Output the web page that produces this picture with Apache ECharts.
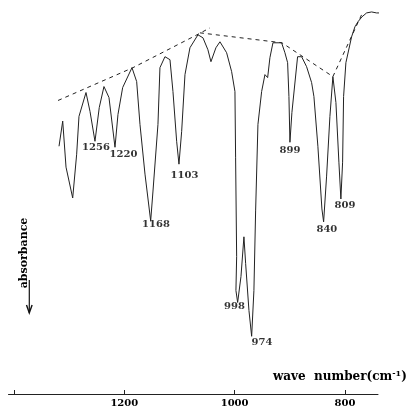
<!DOCTYPE html>
<html>
<head>
<meta charset="utf-8">
<script src="https://cdn.jsdelivr.net/npm/echarts@6/dist/echarts.min.js"></script>
<style>
html,body{margin:0;padding:0;background:#fff;}
#chart{width:411px;height:408px;}
</style>
</head>
<body>
<div id="chart"></div>
<script>
// Wavenumbers (cm-1) of the traced spectrum
var wavenumbers = [1318.4,1311.7,1305.7,1293.6,1286.4,1282.2,1269.5,1262.2,1253.2,1245.4,1236.9,1227.8,1216.9,1211.5,1203.0,1186.1,1177.6,1171.6,1162.5,1152.2,1148.0,1139.0,1135.4,1126.3,1117.2,1111.8,1105.1,1100.9,1096.0,1090.0,1081.0,1066.5,1057.4,1048.4,1042.9,1033.9,1026.6,1014.5,1005.4,999.4,998.2,996.3,997.6,994.5,988.5,983.1,980.0,974.0,969.1,965.0,961.9,957.7,951.0,945.0,940.1,936.0,930.5,914.8,908.8,903.9,901.5,899.7,896.1,885.8,878.5,869.5,860.4,856.2,849.0,841.7,838.6,833.2,827.2,821.8,816.3,810.9,807.3,804.2,802.4,798.2,787.9,781.9,776.5,769.2,760.7,751.6,742.6,733.5,726.2];
// Absorbance (arbitrary units, increasing downward)
var absorbance = [147,121.7,168,199,155,117,93,112,142,108,87,98,148,115,88,68,82,125,175,222,192,125,68,57,60,92,142,165,132,75,48,35,38,50,62,48,42,53,72,92,158,258,292,304,278,238,265,312,338,292,212,125,92,75,78,58,43,43,53,63,97,143,113,57,57,67,83,97,147,210,223,177,117,77,103,163,200,163,97,63,37,27,22,17,13,12,13,13,14];

// Dashed baselines (wavenumber, absorbance)
var base1Wn = [1320.2,1184.3,1068.3,1044.7];
var base1Abs = [101,68,35,28];
var base2Wn = [1062.9,914.2,821.8];
var base2Abs = [33,43,77];
var base3Wn = [821.8,767.4];
var base3Abs = [77,12];

// Peak annotations
var peakLabels = ['1256','1220','1168','1103','998','974','899','840','809'];
var peakLabelWn = [1251.4,1201.5,1142.6,1091.0,1000.3,950.5,899.7,832.7,800.0];
var peakLabelAbs = [148,155.5,226,176,308,344,151,231,206];

// Axis ticks
var tickValues = [1400,1200,1000,800];
var tickLabelValues = [1200,1000,800];

function zip(a,b){return a.map(function(v,i){return [v,b[i]];});}

var serif = 'DejaVu Serif';
var chart = echarts.init(document.getElementById('chart'));
chart.setOption({
  animation:false,
  backgroundColor:'#fff',
  grid:{left:8.5,right:33,top:0,bottom:12},
  xAxis:{
    type:'value',inverse:true,min:740,max:1410,position:'bottom',
    splitLine:{show:false},
    axisLine:{show:true,onZero:false,lineStyle:{color:'#222',width:1}},
    axisTick:{show:true,inside:true,length:4,customValues:tickValues,lineStyle:{color:'#222'}},
    axisLabel:{show:true,customValues:tickLabelValues,margin:4,color:'#000',fontFamily:serif,fontWeight:'bold',fontSize:10,
      formatter:function(v){return String(v);}}
  },
  yAxis:{type:'value',inverse:true,min:0,max:396,show:false},
  series:[
    {type:'line',data:zip(wavenumbers,absorbance),showSymbol:false,clip:false,
     lineStyle:{color:'#222',width:1}},
    {type:'line',data:zip(base1Wn,base1Abs),showSymbol:false,clip:false,
     lineStyle:{color:'#222',width:1,type:[4,4]}},
    {type:'line',data:zip(base2Wn,base2Abs),showSymbol:false,clip:false,
     lineStyle:{color:'#222',width:1,type:[4,4]}},
    {type:'line',data:zip(base3Wn,base3Abs),showSymbol:false,clip:false,
     lineStyle:{color:'#222',width:1,type:[4,4]}},
    {type:'scatter',symbolSize:0,clip:false,
     data:peakLabels.map(function(t,i){return {value:[peakLabelWn[i],peakLabelAbs[i]],name:t};}),
     label:{show:true,position:'inside',formatter:function(p){return p.name;},
            color:'#000',fontFamily:serif,fontWeight:'bold',fontSize:10}}
  ],
  graphic:[
    {type:'text',x:24,y:253,rotation:Math.PI/2,
     style:{text:'absorbance',fill:'#000',font:'bold 11px "DejaVu Serif"',align:'center',verticalAlign:'middle'}},
    {type:'line',shape:{x1:29.3,y1:280,x2:29.3,y2:313},style:{stroke:'#111',lineWidth:1.2}},
    {type:'polyline',shape:{points:[[26.5,305],[29.3,313],[32.1,305]]},style:{stroke:'#111',lineWidth:1.4,fill:null}},
    {type:'text',x:273,y:377,
     style:{text:'{a|wave  number(cm}{s|-1}{a|)}',verticalAlign:'middle',
       rich:{a:{font:'bold 12px "DejaVu Serif"',fill:'#000'},
             s:{font:'bold 8px "DejaVu Serif"',fill:'#000',verticalAlign:'top',padding:[0,0,6,0]}}}}
  ]
});
</script>
</body>
</html>
